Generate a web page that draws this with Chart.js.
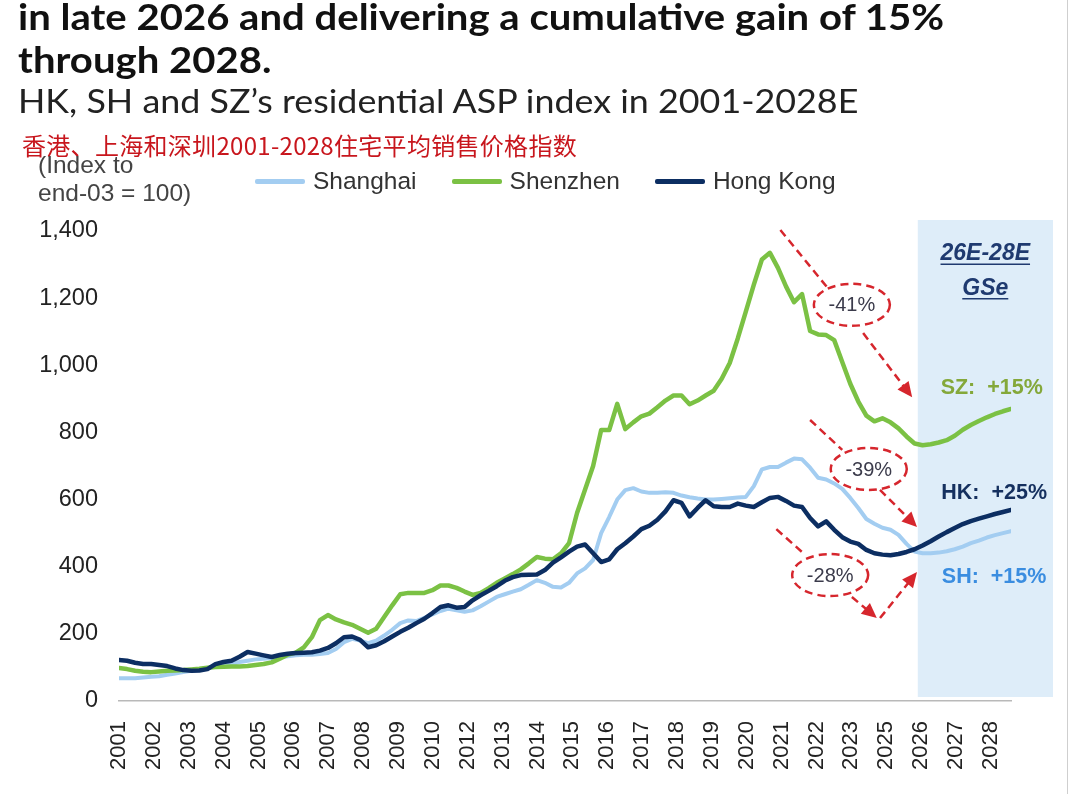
<!DOCTYPE html>
<html>
<head>
<meta charset="utf-8">
<script src="https://cdn.jsdelivr.net/npm/chart.js@4.4.0/dist/chart.umd.min.js"></script>
<style>
  body { margin: 0; background: #fff; }
  #page { position: relative; width: 1080px; height: 794px; overflow: hidden; background: #fff; }
  #wrap { position: absolute; left: 0; top: 0; width: 1080px; height: 794px; }
  .txt { position: absolute; white-space: nowrap; transform-origin: 0 0; }
  #t1 { left: 18px; top: -6px; font: bold 37px Lato, "Open Sans", sans-serif; line-height: 43px; color: #111; transform: scaleX(1.083); }
  #t2 { left: 18px; top: 82px; font: 32px Lato, "Open Sans", sans-serif; line-height: 38px; color: #222; transform: scaleX(1.12); }
  #t3 { left: 22px; top: 133px; font: 24px "Noto Sans CJK SC", sans-serif; line-height: 24px; letter-spacing: 0.3px; color: #c8161d; }
  #unit { left: 38px; top: 151px; font: 24.5px "Liberation Sans", Arial, sans-serif; line-height: 28px; color: #444; }
  #legend { position: absolute; left: 255px; top: 167px; height: 28px; display: flex; align-items: center;
            font: 24.5px "Liberation Sans", Arial, sans-serif; color: #333; }
  #legend .sw { display: inline-block; width: 50px; height: 5px; border-radius: 2px; margin-right: 8px; }
  #legend .it { display: flex; align-items: center; margin-right: 35px; }
  #edge { position: absolute; left: 1067px; top: 0; width: 1px; height: 794px; background: #cfcfcf; }
</style>
</head>
<body>
<div id="page">
  <div id="wrap"><canvas id="chart"></canvas></div>
  <div class="txt" id="t1">in late 2026 and delivering a cumulative gain of 15%<br>through 2028.</div>
  <div class="txt" id="t2">HK, SH and SZ’s residential ASP index in 2001-2028E</div>
  <div class="txt" id="t3">香港、上海和深圳2001-2028住宅平均销售价格指数</div>
  <div class="txt" id="unit">(Index to<br>end-03 = 100)</div>
  <div id="legend"></div>
  <div id="edge"></div>
</div>
<script>
// quarterly index, 2001Q1 .. 2028Q4 (end-03 = 100)
const xLabels = ['2001', '2002', '2003', '2004', '2005', '2006', '2007', '2008', '2009', '2010',
  '2012', '2013', '2014', '2015', '2016', '2017', '2018', '2019', '2020', '2021',
  '2022', '2023', '2025', '2026', '2027', '2028'];

const shanghai = [
  68, 68, 68, 70, 72, 74, 78, 82,
  86, 90, 93, 98, 102, 105, 110, 116,
  120, 124, 126, 128, 130, 133, 136, 138,
  138, 140, 143, 155, 175, 185, 180, 172,
  180, 195, 212, 232, 240, 238, 248, 258,
  268, 275, 270, 266, 270, 282, 296, 310,
  318, 326, 333, 346, 360, 352, 340, 338,
  352, 380, 395, 420, 500, 548, 600, 628,
  634, 624, 620, 620, 622, 620, 612, 607,
  603, 600, 600, 602, 604, 606, 608, 640,
  690, 697, 697, 710, 722, 720, 695, 665,
  660, 648, 632, 605, 575, 542, 528, 516,
  510, 495, 468, 445, 440, 440, 442, 446,
  452, 460, 470, 478, 487, 494, 500, 506
];

const shenzhen = [
  98, 95, 90, 87, 86, 88, 90, 91,
  92, 94, 96, 99, 101, 102, 103, 103,
  104, 107, 110, 115, 126, 138, 144, 160,
  190, 241, 256, 243, 234, 227, 215, 203,
  215, 250, 285, 318, 322, 322, 322, 330,
  344, 344, 337, 326, 316, 322, 336, 352,
  365, 378, 392, 410, 429, 424, 422, 440,
  470, 560, 630, 700, 807, 807, 885, 810,
  830, 848, 856, 875, 895, 910, 910, 884,
  895, 910, 924, 960, 1007, 1080, 1160, 1240,
  1315, 1335, 1290, 1235, 1188, 1212, 1102, 1092,
  1090, 1075, 1010, 945, 892, 850, 833, 842,
  830, 812, 788, 767, 762, 765, 770, 777,
  790, 808, 822, 834, 845, 855, 863, 870
];

const hongKong = [
  122, 120, 114, 110, 110, 107, 104, 97,
  92, 90, 91, 95, 110, 116, 120, 132,
  146, 141, 136, 131, 137, 141, 143, 144,
  145, 150, 158, 172, 190, 192, 182, 160,
  166, 178, 192, 206, 218, 232, 245, 262,
  280, 285, 278, 280, 300, 315, 328, 342,
  358, 369, 375, 376, 377, 390, 412, 428,
  445, 460, 466, 440, 414, 422, 452, 470,
  490, 512, 522, 540, 565, 598, 590, 550,
  575, 598, 580, 578, 578, 588, 582, 578,
  592, 605, 608, 596, 582, 578, 545, 520,
  535, 510, 488, 475, 468, 450, 440, 436,
  434, 438, 444, 452, 463, 476, 490, 503,
  515, 527, 536, 543, 550, 557, 563, 569
];

const quarters = shanghai.map((_, i) => i);
const labelStep = 4.34;        // quarters between printed year labels
const forecastStart = 99.4;    // start of the 26E-28E shaded block

// annotation text, anchored in data units (quarter, index)
const drops = [
  { text: '-41%', at: [91.2, 1180], lead: [[82.3, 1403], [88.1, 1233]], arrows: [[[92.6, 1096], [98.7, 905]]] },
  { text: '-39%', at: [93.3, 691], lead: [[86.0, 837], [90.0, 748]], arrows: [[[94.7, 629], [99.3, 518]]] },
  { text: '-28%', at: [88.5, 375], lead: [[81.8, 512], [85.4, 435]],
    arrows: [[[91.2, 310], [94.3, 247]], [[94.7, 247], [99.3, 384]]] }
];
const sideNotes = [
  { text: 'SZ:  +15%', at: [108.6, 932], color: '#84a83a' },
  { text: 'HK:  +25%', at: [108.9, 620], color: '#15305f' },
  { text: 'SH:  +15%', at: [108.9, 369], color: '#3a8de0' }
];

const RED = '#d6262d';

function dashedPath(ctx, pts) {
  ctx.beginPath();
  ctx.moveTo(pts[0][0], pts[0][1]);
  for (let i = 1; i < pts.length; i++) ctx.lineTo(pts[i][0], pts[i][1]);
  ctx.stroke();
}

function arrowHead(ctx, from, to) {
  const ang = Math.atan2(to[1] - from[1], to[0] - from[0]);
  const len = 15, half = 7;
  ctx.save();
  ctx.setLineDash([]);
  ctx.translate(to[0], to[1]);
  ctx.rotate(ang);
  ctx.beginPath();
  ctx.moveTo(0, 0);
  ctx.lineTo(-len, -half);
  ctx.lineTo(-len, half);
  ctx.closePath();
  ctx.fill();
  ctx.restore();
}

const notesPlugin = {
  id: 'notes',
  beforeDatasetsDraw(chart) {
    const { ctx, chartArea: a, scales: { x } } = chart;
    const x0 = x.getPixelForValue(forecastStart);
    ctx.save();
    ctx.fillStyle = '#deedf9';
    ctx.fillRect(x0, a.top - 11, a.right + 42 - x0, a.bottom - a.top + 7);
    ctx.restore();
  },
  afterDatasetsDraw(chart) {
    const { ctx, scales: { x, y } } = chart;
    const P = (p) => [x.getPixelForValue(p[0]), y.getPixelForValue(p[1])];
    ctx.save();

    // dashed call-outs
    ctx.strokeStyle = RED;
    ctx.fillStyle = RED;
    ctx.lineWidth = 2.5;
    drops.forEach(d => {
      ctx.setLineDash([8, 5]);
      dashedPath(ctx, d.lead.map(P));
      const c = P(d.at);
      ctx.beginPath();
      ctx.ellipse(c[0], c[1], 38, 21, 0, 0, Math.PI * 2);
      ctx.stroke();
      d.arrows.forEach(ar => {
        const pts = ar.map(P);
        const last = pts[pts.length - 1], prev = pts[pts.length - 2];
        const ang = Math.atan2(last[1] - prev[1], last[0] - prev[0]);
        const stop = [last[0] - 12 * Math.cos(ang), last[1] - 12 * Math.sin(ang)];
        ctx.setLineDash([8, 5]);
        dashedPath(ctx, pts.slice(0, -1).concat([stop]));
        arrowHead(ctx, prev, last);
      });
      ctx.setLineDash([]);
      ctx.save();
      ctx.fillStyle = '#3b3b4b';
      ctx.font = '20px "Liberation Sans", Arial, sans-serif';
      ctx.textAlign = 'center';
      ctx.textBaseline = 'middle';
      ctx.fillText(d.text, c[0], c[1] + 1);
      ctx.restore();
    });

    // forecast block heading
    ctx.fillStyle = '#1f3a70';
    ctx.strokeStyle = '#1f3a70';
    ctx.lineWidth = 1.5;
    ctx.font = 'italic bold 23px "Liberation Sans", Arial, sans-serif';
    ctx.textAlign = 'center';
    ctx.textBaseline = 'alphabetic';
    [['26E-28E', [107.8, 1313]], ['GSe', [107.8, 1210]]].forEach(([t, p]) => {
      const c = P(p);
      ctx.fillText(t, c[0], c[1]);
      const w = ctx.measureText(t).width;
      ctx.beginPath();
      ctx.moveTo(c[0] - w / 2, c[1] + 4);
      ctx.lineTo(c[0] + w / 2, c[1] + 4);
      ctx.stroke();
    });

    // growth labels
    ctx.font = 'bold 21.5px "Liberation Sans", Arial, sans-serif';
    ctx.textBaseline = 'middle';
    sideNotes.forEach(n => {
      const c = P(n.at);
      ctx.fillStyle = n.color;
      ctx.fillText(n.text, c[0], c[1]);
    });
    ctx.restore();
  }
};

const chart = new Chart(document.getElementById('chart'), {
  type: 'line',
  data: {
    labels: quarters,
    datasets: [
      { label: 'Shanghai', data: shanghai, borderColor: '#a3cdf1', borderWidth: 4, order: 2 },
      { label: 'Shenzhen', data: shenzhen, borderColor: '#7bc144', borderWidth: 4.5, order: 1 },
      { label: 'Hong Kong', data: hongKong, borderColor: '#0c2e62', borderWidth: 4.5, order: 0 }
    ]
  },
  options: {
    responsive: true,
    maintainAspectRatio: false,
    animation: false,
    layout: { padding: { top: 231, right: 69, bottom: 0, left: 0 } },
    elements: {
      point: { radius: 0 },
      line: { tension: 0, borderJoinStyle: 'round', borderCapStyle: 'round' }
    },
    scales: {
      x: {
        type: 'linear',
        min: 0,
        max: quarters.length - 1,
        grid: { display: false, drawTicks: false },
        border: { display: true, color: '#b9b9b9', width: 1.5 },
        afterBuildTicks: (scale) => {
          scale.ticks = xLabels.map((_, k) => ({ value: k * labelStep }));
        },
        afterFit: (scale) => { scale.height = 93; },
        ticks: {
          autoSkip: false,
          minRotation: 90,
          maxRotation: 90,
          padding: 20,
          color: '#222',
          font: { family: '"Liberation Sans", Arial, sans-serif', size: 22 },
          callback: (value, index) => xLabels[index]
        }
      },
      y: {
        min: 0,
        max: 1400,
        grid: { display: false, drawTicks: false },
        border: { display: false },
        afterFit: (scale) => { scale.width = 119; },
        ticks: {
          stepSize: 200,
          padding: 21,
          color: '#222',
          font: { family: '"Liberation Sans", Arial, sans-serif', size: 23.5 },
          callback: (v) => v.toLocaleString('en-US')
        }
      }
    },
    plugins: {
      legend: { display: false },
      tooltip: { enabled: false }
    }
  },
  plugins: [notesPlugin]
});

// legend row built from the chart's own datasets
const legendBox = document.getElementById('legend');
chart.data.datasets.forEach(ds => {
  const item = document.createElement('span');
  item.className = 'it';
  item.innerHTML = '<span class="sw" style="background:' + ds.borderColor + '"></span>' + ds.label;
  legendBox.appendChild(item);
});
</script>
</body>
</html>
